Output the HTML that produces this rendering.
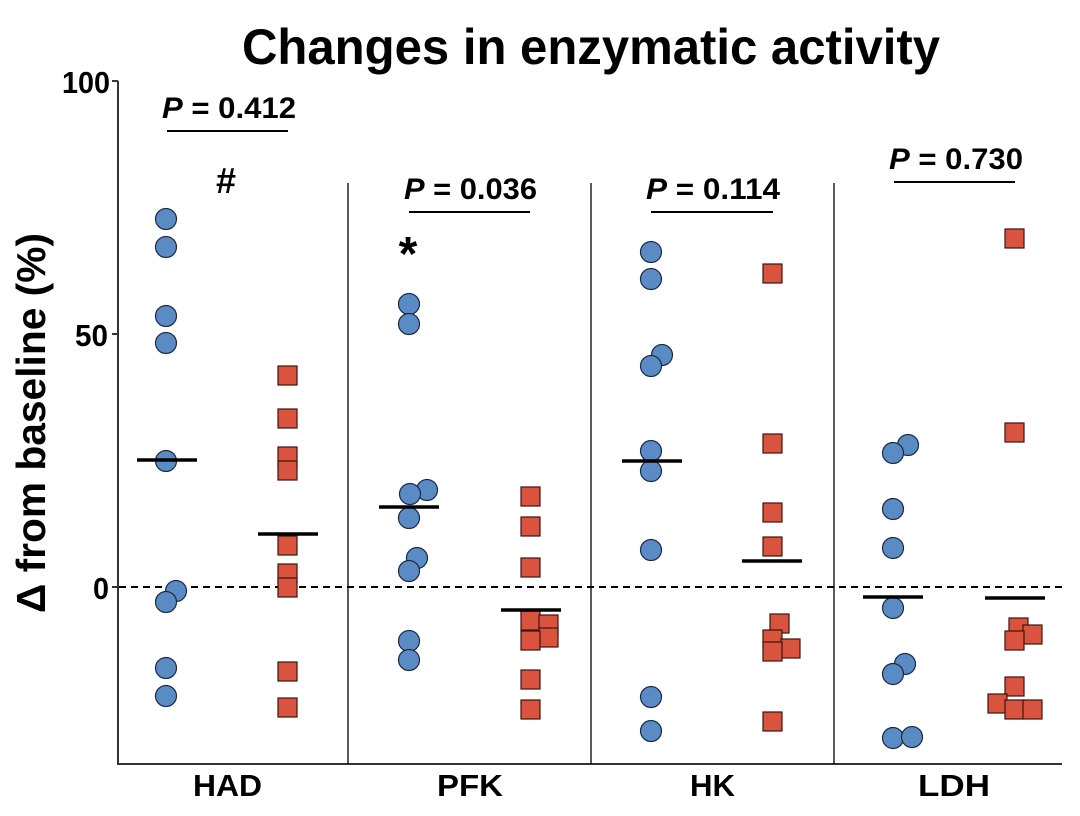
<!DOCTYPE html>
<html><head><meta charset="utf-8"><style>body{margin:0;background:#fff}svg{display:block}text{font-family:"Liberation Sans",Arial,sans-serif;font-weight:bold;fill:#000}</style></head><body>
<svg width="1080" height="816" viewBox="0 0 1080 816" xmlns="http://www.w3.org/2000/svg">
<text x="242" y="64" font-size="50" textLength="698" lengthAdjust="spacingAndGlyphs">Changes in enzymatic activity</text>
<text transform="translate(45,613) rotate(-90)" font-size="41" textLength="380" lengthAdjust="spacingAndGlyphs">Δ from baseline (%)</text>
<g stroke="#333" stroke-width="2"><line x1="118" y1="81" x2="118" y2="765"/><line x1="117" y1="764" x2="1062" y2="764"/>
<line x1="112" y1="81" x2="118" y2="81"/><line x1="112" y1="334" x2="118" y2="334"/><line x1="112" y1="587" x2="118" y2="587"/></g>
<g font-size="31"><text x="62" y="93" textLength="48" lengthAdjust="spacingAndGlyphs">100</text><text x="75" y="346" textLength="33" lengthAdjust="spacingAndGlyphs">50</text><text x="93" y="599" textLength="16" lengthAdjust="spacingAndGlyphs">0</text></g>
<g stroke="#000" stroke-width="1.3"><line x1="348" y1="183" x2="348" y2="764"/><line x1="591" y1="183" x2="591" y2="764"/><line x1="834" y1="183" x2="834" y2="764"/></g>
<line x1="119" y1="587" x2="1062" y2="587" stroke="#000" stroke-width="2" stroke-dasharray="7,5"/>
<g font-size="31"><text x="193" y="796" textLength="69" lengthAdjust="spacingAndGlyphs">HAD</text><text x="437" y="796" textLength="66" lengthAdjust="spacingAndGlyphs">PFK</text><text x="690" y="796" textLength="45" lengthAdjust="spacingAndGlyphs">HK</text><text x="918" y="796" textLength="72" lengthAdjust="spacingAndGlyphs">LDH</text></g>
<g font-size="30">
<text x="162" y="118" textLength="134" lengthAdjust="spacingAndGlyphs"><tspan font-style="italic">P</tspan> = 0.412</text>
<text x="404" y="199" textLength="133" lengthAdjust="spacingAndGlyphs"><tspan font-style="italic">P</tspan> = 0.036</text>
<text x="646" y="199" textLength="134" lengthAdjust="spacingAndGlyphs"><tspan font-style="italic">P</tspan> = 0.114</text>
<text x="889" y="169" textLength="134" lengthAdjust="spacingAndGlyphs"><tspan font-style="italic">P</tspan> = 0.730</text>
</g>
<g stroke="#000" stroke-width="2"><line x1="167" y1="131" x2="288" y2="131"/><line x1="409" y1="212" x2="530" y2="212"/><line x1="651" y1="212" x2="773" y2="212"/><line x1="894" y1="182" x2="1015" y2="182"/></g>
<text x="226" y="193" font-size="36" text-anchor="middle">#</text>
<text x="408" y="270" font-size="48" text-anchor="middle">*</text>
<g fill="#5b8bc4" stroke="#1a2a40" stroke-width="1.2">
<circle cx="166" cy="219" r="10.5"/><circle cx="166" cy="247" r="10.5"/><circle cx="166" cy="316" r="10.5"/><circle cx="166" cy="343" r="10.5"/><circle cx="166" cy="461" r="10.5"/><circle cx="176" cy="591" r="10.5"/><circle cx="166" cy="602" r="10.5"/><circle cx="166" cy="668" r="10.5"/><circle cx="166" cy="696" r="10.5"/>
<circle cx="409" cy="304" r="10.5"/><circle cx="409" cy="324" r="10.5"/><circle cx="427" cy="490" r="10.5"/><circle cx="410" cy="494" r="10.5"/><circle cx="409" cy="518" r="10.5"/><circle cx="417" cy="558" r="10.5"/><circle cx="409" cy="571" r="10.5"/><circle cx="409" cy="641" r="10.5"/><circle cx="409" cy="660" r="10.5"/>
<circle cx="651" cy="252" r="10.5"/><circle cx="651" cy="279" r="10.5"/><circle cx="662" cy="355" r="10.5"/><circle cx="651" cy="366" r="10.5"/><circle cx="651" cy="451" r="10.5"/><circle cx="651" cy="471" r="10.5"/><circle cx="651" cy="550" r="10.5"/><circle cx="651" cy="697" r="10.5"/><circle cx="651" cy="731" r="10.5"/>
<circle cx="908" cy="445" r="10.5"/><circle cx="893" cy="453" r="10.5"/><circle cx="893" cy="509" r="10.5"/><circle cx="893" cy="548" r="10.5"/><circle cx="893" cy="608" r="10.5"/><circle cx="905" cy="664" r="10.5"/><circle cx="893" cy="674" r="10.5"/><circle cx="893" cy="738" r="10.5"/><circle cx="912" cy="737" r="10.5"/>
</g>
<g fill="#d9533f" stroke="#3a1510" stroke-width="1.2">
<rect x="278" y="366" width="19" height="19"/><rect x="278" y="409" width="19" height="19"/><rect x="278" y="447" width="19" height="19"/><rect x="278" y="461" width="19" height="19"/><rect x="278" y="536" width="19" height="19"/><rect x="278" y="564" width="19" height="19"/><rect x="278" y="578" width="19" height="19"/><rect x="278" y="662" width="19" height="19"/><rect x="278" y="698" width="19" height="19"/>
<rect x="521" y="487" width="19" height="19"/><rect x="521" y="517" width="19" height="19"/><rect x="521" y="558" width="19" height="19"/><rect x="521" y="611" width="19" height="19"/><rect x="539" y="615" width="19" height="19"/><rect x="539" y="628" width="19" height="19"/><rect x="521" y="631" width="19" height="19"/><rect x="521" y="670" width="19" height="19"/><rect x="521" y="700" width="19" height="19"/>
<rect x="763" y="264" width="19" height="19"/><rect x="763" y="434" width="19" height="19"/><rect x="763" y="503" width="19" height="19"/><rect x="763" y="537" width="19" height="19"/><rect x="770" y="614" width="19" height="19"/><rect x="763" y="630" width="19" height="19"/><rect x="781" y="639" width="19" height="19"/><rect x="763" y="642" width="19" height="19"/><rect x="763" y="712" width="19" height="19"/>
<rect x="1005" y="229" width="19" height="19"/><rect x="1005" y="423" width="19" height="19"/><rect x="1009" y="618" width="19" height="19"/><rect x="1023" y="625" width="19" height="19"/><rect x="1005" y="631" width="19" height="19"/><rect x="1005" y="677" width="19" height="19"/><rect x="988" y="694" width="19" height="19"/><rect x="1005" y="700" width="19" height="19"/><rect x="1023" y="700" width="19" height="19"/>
</g>
<g stroke="#000" stroke-width="3.5">
<line x1="137" y1="460" x2="197" y2="460"/><line x1="258" y1="534" x2="318" y2="534"/>
<line x1="379" y1="507" x2="439" y2="507"/><line x1="501" y1="610" x2="561" y2="610"/>
<line x1="622" y1="461" x2="682" y2="461"/><line x1="742" y1="561" x2="802" y2="561"/>
<line x1="863" y1="597" x2="923" y2="597"/><line x1="985" y1="598" x2="1045" y2="598"/>
</g>
</svg>
</body></html>
